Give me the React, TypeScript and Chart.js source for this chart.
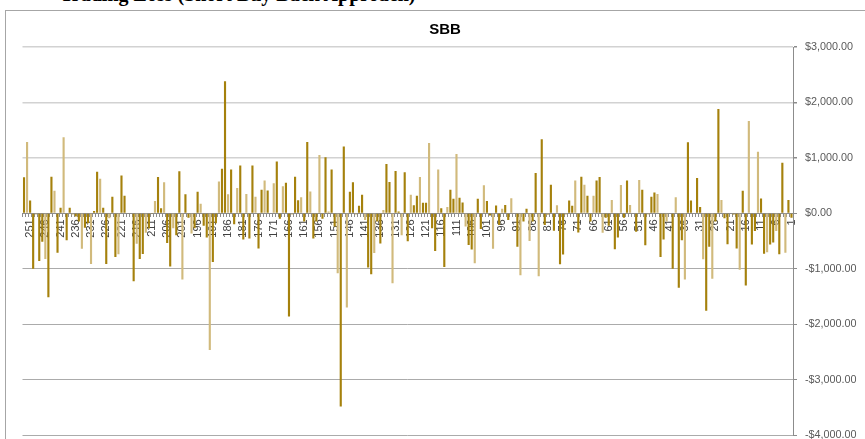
import React, { useEffect, useRef } from "react";
import { Chart, registerables } from "chart.js";

Chart.register(...registerables);

const HEADING = "Trading Loss (Short Buy Back Approach)";
const TITLE = "SBB";

// categories run from 253 (left) down to 1 (right)
const CATEGORY_COUNT = 253;
const CATEGORIES: string[] = Array.from({ length: CATEGORY_COUNT }, (_, i) => String(CATEGORY_COUNT - i));
const LABEL_EVERY = 5;

// P/L values, left to right (category 253 ... 1)
const VALUES: number[] = [
  650, 1285, 230, -1000, -20, -860, -515, -825, -1515, 660,
  405, -710, 100, 1370, -485, 100, -20, -60, -150, -640,
  -260, -180, -915, 40, 750, 625, 100, -915, -90, 300,
  -790, -740, 680, 315, 10, -10, -1225, -550, -825, -735,
  -350, -275, -15, 220, 655, 90, 560, -535, -960, -270,
  -395, 760, -1195, 345, -80, -365, -270, 390, 170, -225,
  -435, -2465, -880, -180, 575, 805, 2380, 345, 790, -200,
  455, 860, -475, 350, -455, 860, 300, -635, 425, 590,
  410, 10, 540, 935, -100, 490, 550, -1860, -20, 660,
  235, 290, -150, 1285, 395, -455, -150, 1050, -100, 1010,
  30, 790, -240, -1080, -3485, 1205, -1700, 390, 560, -20,
  135, 335, -120, -980, -1100, -715, -150, -545, 60, 890,
  565, -1260, 765, 30, -395, 740, -505, 335, 145, 315,
  655, 190, 190, 1270, -270, -680, 790, 90, -970, 115,
  425, 260, 1070, 280, 195, -240, -570, -655, -900, 260,
  -285, 505, 220, -40, -640, 140, -210, 80, 150, -120,
  270, 10, -605, -1120, -150, 80, -500, -150, 725, -1135,
  1335, -210, -30, 515, -315, 145, -920, -745, -20, 230,
  135, 590, -345, 660, 515, 315, -150, 315, 590, 655,
  -350, -80, -225, 240, -650, -435, 510, -80, 590, 150,
  10, -335, 600, 425, -575, -20, 300, 375, 350, -790,
  -475, -150, 10, -1000, 290, -1345, -485, -1195, 1280, 230,
  10, 635, 115, -830, -1760, -605, -1180, -150, 1880, 240,
  -90, -560, 10, -20, -635, -1020, 405, -1305, 1665, -565,
  -320, 1110, 265, -730, -705, -565, -525, -320, -740, 910,
  -710, 240, -80,
];

const Y_MIN = -4000;
const Y_MAX = 3000;
const Y_STEP = 1000;

const DARK = "#A5810C";
const LIGHT = "#D1BA7C";

function fmtMoney(v: number): string {
  const s = Math.abs(v).toLocaleString("en-US", {
    minimumFractionDigits: 2,
    maximumFractionDigits: 2,
  });
  return (v < 0 ? "-$" : "$") + s;
}

export default function App() {
  const ref = useRef<HTMLCanvasElement>(null);

  useEffect(() => {
    const canvas = ref.current;
    if (!canvas) return;
    const chart = new Chart(canvas, {
      type: "bar",
      data: {
        labels: CATEGORIES,
        datasets: [
          {
            data: VALUES,
            backgroundColor: VALUES.map((_, i) => (i % 3 === 1 ? LIGHT : DARK)),
            borderWidth: 0,
            barPercentage: 0.7,
            categoryPercentage: 1,
          },
        ],
      },
      options: {
        responsive: false,
        animation: false,
        devicePixelRatio: 1,
        layout: { padding: { top: 47, left: 22.5, right: 0, bottom: 35 } },
        plugins: {
          legend: { display: false },
          title: { display: false },
          tooltip: { enabled: false },
        },
        scales: {
          x: {
            position: { y: 0 } as any,
            z: 1,
            offset: true,
            grid: {
              display: true,
              drawOnChartArea: false,
              drawTicks: true,
              tickLength: 3,
              color: "#8c8c8c",
            },
            border: { display: true, color: "#8c8c8c", width: 1 },
            ticks: {
              autoSkip: false,
              minRotation: 90,
              maxRotation: 90,
              padding: 3,
              color: "#404040",
              font: { family: "Liberation Sans", size: 11 },
              callback: (_v: any, i: number) =>
                (Number(CATEGORIES[i]) - 1) % LABEL_EVERY === 0 ? CATEGORIES[i] : "",
            },
          },
          y: {
            position: "right",
            min: Y_MIN,
            max: Y_MAX,
            afterFit: (s: any) => {
              s.width = 72;
            },
            grid: {
              color: (ctx: any) => {
                const v = ctx.tick ? ctx.tick.value : 0;
                return v > 0 ? "#d2d2d2" : v < 0 ? "#ababab" : "#8c8c8c";
              },
              lineWidth: (ctx: any) => {
                const v = ctx.tick ? ctx.tick.value : 0;
                return v > 0 ? 1.5 : 1;
              },
              tickColor: "#8c8c8c",
              tickLength: 4,
              drawTicks: true,
            },
            border: { display: true, color: "#8c8c8c", width: 1 },
            ticks: {
              stepSize: Y_STEP,
              padding: 8,
              color: "#595959",
              font: { family: "Liberation Sans", size: 10.8 },
              callback: (v: any) => fmtMoney(Number(v)),
            },
          },
        },
      },
    });
    return () => chart.destroy();
  }, []);

  return (
    <div
      style={{
        position: "fixed",
        left: 0,
        top: 0,
        width: 865,
        height: 439,
        overflow: "hidden",
        background: "#ffffff",
      }}
    >
      <div
        style={{
          position: "absolute",
          left: 60,
          top: -16,
          whiteSpace: "nowrap",
          fontFamily: "'Liberation Serif', serif",
          fontWeight: "bold",
          fontSize: 20,
          lineHeight: "20px",
          color: "#000",
        }}
      >
        {HEADING}
      </div>
      <div
        style={{
          position: "absolute",
          left: 5,
          top: 10,
          width: 900,
          height: 500,
          border: "1px solid #a6a6a6",
          boxSizing: "border-box",
        }}
      />
      <canvas
        ref={ref}
        width={865}
        height={470}
        style={{ position: "absolute", left: 0, top: 0, width: 865, height: 470 }}
      />
      <div
        style={{
          position: "absolute",
          left: 0,
          width: 890,
          top: 20,
          textAlign: "center",
          fontFamily: "'Liberation Sans', sans-serif",
          fontWeight: "bold",
          fontSize: 15,
          color: "#000",
        }}
      >
        {TITLE}
      </div>
    </div>
  );
}
